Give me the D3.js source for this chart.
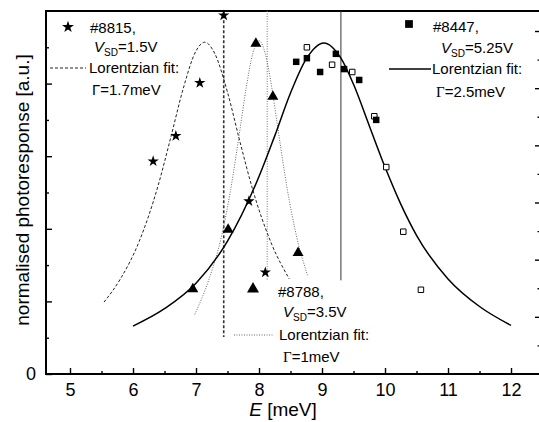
<!DOCTYPE html>
<head>
  <meta charset='utf-8'>
  <style>
      body { margin: 0; background: #fff; }
      svg { font-family: 'Liberation Sans', Arial, sans-serif; }
      .frame { stroke: #000; stroke-width: 2px; fill: none; }
      .axis path { display: none; }
      .axis line { stroke: #000; stroke-width: 1.4px; }
      .axis text { font-size: 18px; fill: #000; font-family: 'Liberation Sans', Arial, sans-serif; }
      .fit { fill: none; }
      .g17 { stroke: #222; stroke-width: 1px; stroke-dasharray: 3,2; }
      .g10 { stroke: #666; stroke-width: 1px; stroke-dasharray: 1,1.5; }
      .g25 { stroke: #000; stroke-width: 1.5px; }
      .mark.g17 { stroke: #333; stroke-width: 1.6px; stroke-dasharray: 3,2; }
      .mark.g10 { stroke: #777; stroke-width: 1px; }
      .mark.g25 { stroke: #333; stroke-width: 1px; }
      .legend { font-size: 15px; fill: #000; }
      .title { font-size: 19px; fill: #000; }
      .open { fill: #fff; stroke: #000; stroke-width: 1px; }
      .filled { fill: #000; }
  </style>
</head>
<body>
<script src='https://d3js.org/d3.v7.min.js'></script>
<script>
    // sample #8815 (stars)
    var starE = [7.44, 7.06, 6.68, 6.32, 7.84, 8.10],
        starR = [4.94, 4.01, 3.28, 2.93, 2.38, 1.40];
    // sample #8788 (triangles)
    var triE = [7.95, 8.22, 7.51, 8.62, 6.95],
        triR = [4.55, 3.82, 1.99, 1.67, 1.17];
    // sample #8447 (filled squares)
    var sqE = [8.59, 8.76, 8.97, 9.22, 9.35, 9.59, 9.86],
        sqR = [4.30, 4.35, 4.16, 4.41, 4.20, 4.05, 3.50];
    // open squares
    var openE = [8.76, 9.16, 9.48, 9.83, 10.02, 10.29, 10.57],
        openR = [4.50, 4.26, 4.16, 3.55, 2.85, 1.96, 1.16];

    // fitted curves
    var fit17E = [5.54, 5.8, 6.1, 6.4, 6.6, 6.8, 7.0, 7.14, 7.3, 7.5, 7.7, 7.9, 8.2, 8.48],
        fit17R = [0.99, 1.31, 1.83, 2.60, 3.26, 3.94, 4.45, 4.57, 4.41, 3.88, 3.19, 2.54, 1.79, 1.31];
    var fit10E = [6.98, 7.2, 7.4, 7.55, 7.7, 7.8, 7.9, 8.0, 8.1, 8.2, 8.3, 8.45, 8.6, 8.77],
        fit10R = [0.82, 1.29, 1.88, 2.54, 3.38, 3.96, 4.41, 4.59, 4.41, 3.96, 3.38, 2.54, 1.88, 1.36];
    var fit25E = [6.0, 6.5, 7.0, 7.5, 8.0, 8.25, 8.5, 8.75, 9.03, 9.3, 9.5, 9.75, 10.0, 10.25, 10.5, 11.0, 11.5, 12.0],
        fit25R = [0.66, 0.90, 1.25, 1.83, 2.72, 3.28, 3.87, 4.34, 4.56, 4.35, 3.99, 3.42, 2.85, 2.34, 1.91, 1.31, 0.93, 0.67];

    // vertical markers (dashed, dotted, solid)
    var markE = [7.44, 8.13, 9.30],
        markTop = [4.94, 5.0, 5.0],
        markBottom = [0.51, 1.29, 1.29];

    var xTicks = [5, 6, 7, 8, 9, 10, 11, 12],
        xMinor = [5.5, 6.5, 7.5, 8.5, 9.5, 10.5, 11.5],
        yTicks = [0, 1, 2, 3, 4],
        yMinor = [0.5, 1.5, 2.5, 3.5, 4.5],
        y2Ticks = [1, 2, 3, 4, 5, 6],
        y2Minor = [0.5, 1.5, 2.5, 3.5, 4.5, 5.5];

    var sampleNames = ['#8815,', '#8788,', '#8447,'],
        biasLabels = ['=1.5V', '=3.5V', '=5.25V'],
        gammaLabels = ['=1.7meV', '=1meV', '=2.5meV'];

    var
        W = 539,
        H = 422,
        L = 46, R = 540, T = 11, B = 374;

    var
        x = d3.scaleLinear().domain([4.619, 12.46]).range([L, R]),
        y = d3.scaleLinear().domain([0, 5]).range([B, T]),
        y2 = d3.scaleLinear().domain([0, 6.35]).range([B, T]),
        line = d3.line()
            .x(function(d) { return x(d[0]); })
            .y(function(d) { return y(d[1]); })
            .curve(d3.curveMonotoneX);

    var svg = d3.select('body').append('svg')
        .attr('width', W)
        .attr('height', H);

    function zip(a, b) {
        return a.map(function(d, i) { return [d, b[i]]; });
    }

    // axes (ticks point inwards)
    svg.append('g').attr('class', 'axis')
        .attr('transform', 'translate(0,' + B + ')')
        .call(d3.axisBottom(x).tickValues(xTicks).tickSize(-6).tickPadding(9));
    svg.append('g').attr('class', 'axis')
        .attr('transform', 'translate(0,' + B + ')')
        .call(d3.axisBottom(x).tickValues(xMinor).tickSize(-3).tickFormat(''));
    svg.append('g').attr('class', 'axis')
        .attr('transform', 'translate(' + L + ',0)')
        .call(d3.axisLeft(y).tickValues(yTicks).tickSize(-6).tickPadding(10)
            .tickFormat(function(d) { return d === 0 ? '0' : ''; }));
    svg.append('g').attr('class', 'axis')
        .attr('transform', 'translate(' + L + ',0)')
        .call(d3.axisLeft(y).tickValues(yMinor).tickSize(-3).tickFormat(''));
    svg.append('g').attr('class', 'axis')
        .attr('transform', 'translate(' + R + ',0)')
        .call(d3.axisRight(y2).tickValues(y2Ticks).tickSize(-5).tickFormat(''));
    svg.append('g').attr('class', 'axis')
        .attr('transform', 'translate(' + R + ',0)')
        .call(d3.axisRight(y2).tickValues(y2Minor).tickSize(-2.5).tickFormat(''));

    svg.append('rect')
        .attr('class', 'frame')
        .attr('x', L).attr('y', T)
        .attr('width', R - L).attr('height', B - T);

    // vertical markers
    var markClass = ['g17', 'g10', 'g25'];
    svg.selectAll('.mark')
        .data(markE)
        .enter().append('line')
        .attr('class', function(d, i) { return 'mark ' + markClass[i]; })
        .attr('x1', function(d) { return x(d); })
        .attr('x2', function(d) { return x(d); })
        .attr('y1', function(d, i) { return y(markTop[i]); })
        .attr('y2', function(d, i) { return y(markBottom[i]); });

    // fits
    svg.append('path').datum(zip(fit17E, fit17R)).attr('class', 'fit g17').attr('d', line);
    svg.append('path').datum(zip(fit10E, fit10R)).attr('class', 'fit g10').attr('d', line);
    svg.append('path').datum(zip(fit25E, fit25R)).attr('class', 'fit g25').attr('d', line);

    // points
    function points(data, type, size, cls) {
        svg.append('g').selectAll('path')
            .data(data)
            .enter().append('path')
            .attr('class', cls)
            .attr('transform', function(d) { return 'translate(' + x(d[0]) + ',' + y(d[1]) + ')'; })
            .attr('d', d3.symbol().type(type).size(size));
    }
    points(zip(openE, openR), d3.symbolSquare, 30, 'open');
    points(zip(sqE, sqR), d3.symbolSquare, 42, 'filled');
    points(zip(starE, starR), d3.symbolStar, 40, 'filled');
    points(zip(triE, triR), d3.symbolTriangle, 52, 'filled');

    // legends
    var legends = [
        {sym: d3.symbolStar, size: 45, sx: 68, sy: 27, lx1: 50, lx2: 86, ly: 68, cls: 'g17',
         tx: [90, 94, 89, 92], ty: [33, 52, 73, 95], serif: false},
        {sym: d3.symbolTriangle, size: 62, sx: 253, sy: 289, lx1: 234, lx2: 273, ly: 335, cls: 'g10',
         tx: [278, 283, 279, 283], ty: [297, 317, 340, 362], serif: true},
        {sym: d3.symbolSquare, size: 60, sx: 409, sy: 24, lx1: 389, lx2: 431, ly: 69, cls: 'g25',
         tx: [433, 441, 432, 436], ty: [32, 53, 74, 97], serif: true}
    ];

    legends.forEach(function(lg, i) {
        var g = svg.append('g').attr('class', 'legend');
        g.append('path')
            .attr('class', 'filled')
            .attr('transform', 'translate(' + lg.sx + ',' + lg.sy + ')')
            .attr('d', d3.symbol().type(lg.sym).size(lg.size));
        g.append('line')
            .attr('class', 'fit ' + lg.cls)
            .attr('x1', lg.lx1).attr('x2', lg.lx2)
            .attr('y1', lg.ly).attr('y2', lg.ly);
        g.append('text').attr('x', lg.tx[0]).attr('y', lg.ty[0]).text(sampleNames[i]);
        var v = g.append('text').attr('x', lg.tx[1]).attr('y', lg.ty[1]);
        v.append('tspan').style('font-style', 'italic').text('V');
        v.append('tspan').attr('dy', 4).style('font-size', '10px').text('SD');
        v.append('tspan').attr('dy', -4).text(biasLabels[i]);
        g.append('text').attr('x', lg.tx[2]).attr('y', lg.ty[2]).text('Lorentzian fit:');
        var t = g.append('text').attr('x', lg.tx[3]).attr('y', lg.ty[3]);
        t.append('tspan')
            .style('font-family', lg.serif ? "'Liberation Serif', serif" : null)
            .text('Γ');
        t.append('tspan').text(gammaLabels[i]);
    });

    // axis titles
    svg.append('text')
        .attr('class', 'title')
        .attr('transform', 'translate(29,190) rotate(-90)')
        .attr('text-anchor', 'middle')
        .text('normalised photoresponse [a.u.]');
    var xt = svg.append('text')
        .attr('class', 'title')
        .attr('x', 283).attr('y', 416)
        .attr('text-anchor', 'middle');
    xt.append('tspan').style('font-style', 'italic').text('E');
    xt.append('tspan').text(' [meV]');
</script>
</body>
